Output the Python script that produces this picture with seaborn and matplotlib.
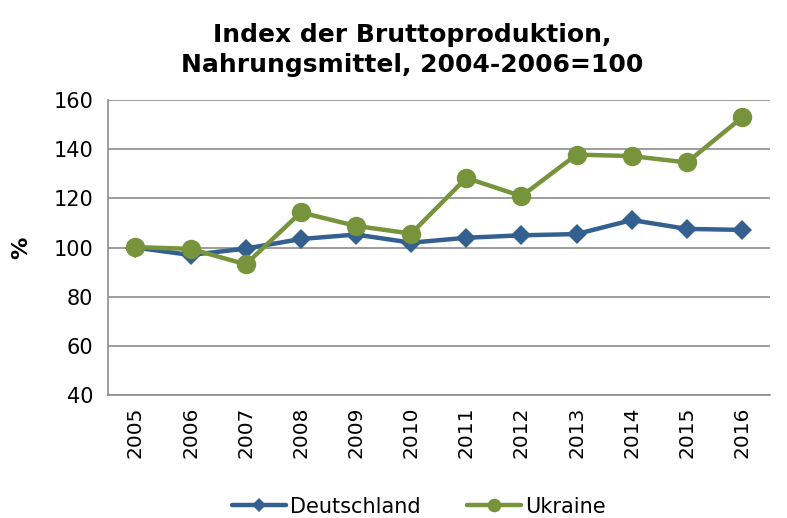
import numpy as np
import pandas as pd
import matplotlib.pyplot as plt
from matplotlib.ticker import MultipleLocator
import seaborn as sns

# Datos
years = [2005, 2006, 2007, 2008, 2009, 2010, 2011, 2012, 2013, 2014, 2015, 2016]
deutschland = [100.0, 97.0, 99.6, 103.5, 105.3, 102.0, 104.0, 105.0, 105.5, 111.2, 107.6, 107.2]
ukraine = [100.2, 99.5, 93.2, 114.3, 108.8, 105.7, 128.3, 120.9, 137.8, 137.2, 134.6, 152.9]

sns.set_style('white')
plt.rcParams['font.family'] = ['DejaVu Sans']
plt.rcParams['text.color'] = 'black'
plt.rcParams['axes.labelcolor'] = 'black'
plt.rcParams['xtick.labelcolor'] = 'black'
plt.rcParams['ytick.labelcolor'] = 'black'

fig = plt.figure(figsize=(7.87, 5.18), dpi=100)
ax = fig.add_axes([0.137, 0.237, 0.841, 0.57])

sns.lineplot(x=years, y=deutschland, ax=ax, color='#33608F', linewidth=3.2,
             marker='D', markersize=10, markeredgewidth=0, label='Deutschland')
sns.lineplot(x=years, y=ukraine, ax=ax, color='#77933C', linewidth=3.2,
             marker='o', markersize=14, markeredgewidth=0, label='Ukraine')

ax.set_ylim(40, 160)
ax.set_xlim(years[0] - 0.5, years[-1] + 0.5)
ax.yaxis.set_major_locator(MultipleLocator(20))
ax.set_xticks(years)
ax.set_xticklabels([str(y) for y in years], rotation=90, fontsize=14.5)
ax.set_xticks(np.arange(years[0] - 0.5, years[-1] + 1, 1), minor=True)
ax.tick_params(axis='x', which='major', length=0, pad=8)
ax.tick_params(axis='x', which='minor', length=7, width=1.2, color='#8C8C8C', direction='out')
ax.tick_params(axis='y', labelsize=15, length=7, width=1.2, color='#8C8C8C', direction='out')

ax.grid(axis='y', color='#8C8C8C', linewidth=1.2)
ax.set_axisbelow(True)
for side in ['top', 'right']:
    ax.spines[side].set_visible(False)
for side in ['left', 'bottom']:
    ax.spines[side].set_color('#8C8C8C')
    ax.spines[side].set_linewidth(1.2)

ax.set_ylabel('%', fontsize=16, fontweight='bold', labelpad=16)
ax.set_title('Index der Bruttoproduktion,\nNahrungsmittel, 2004-2006=100',
             fontsize=18, fontweight='bold', pad=20, linespacing=1.35, x=0.46)

ax.legend(loc='upper center', bbox_to_anchor=(0.47, -0.28), ncol=2, frameon=False,
          fontsize=15, handlelength=2.6, columnspacing=2.2, handletextpad=0.2,
          markerscale=0.7)

fig.savefig('out.png', dpi=100)
